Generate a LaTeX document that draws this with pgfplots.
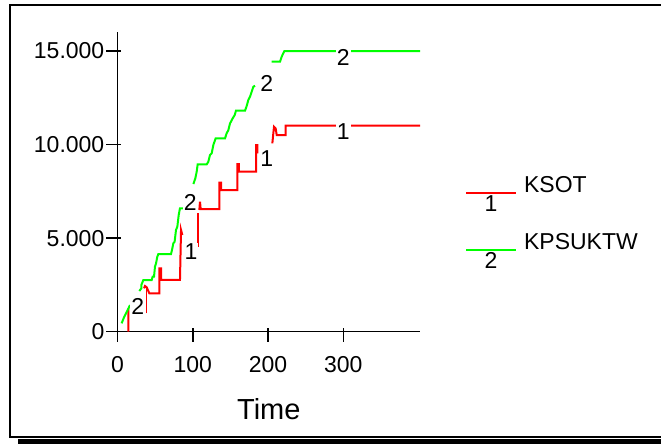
\documentclass[border=0pt]{standalone}
\usepackage{pgfplots}
\pgfplotsset{compat=1.18}
\usepackage{fontspec}
\setmainfont{Liberation Sans}
\definecolor{kred}{RGB}{255,0,0}
\definecolor{kgreen}{RGB}{0,255,0}
\newcommand{\fs}{\fontsize{23bp}{26bp}\selectfont}
\newcommand{\fl}{\fontsize{29bp}{32bp}\selectfont}
\begin{document}
\begin{tikzpicture}
\useasboundingbox (0,0) rectangle (661bp,444bp);
\clip (0,0) rectangle (661bp,444bp);
\fill[white] (0,0) rectangle (661bp,444bp);
\fill[black] (18bp,0) rectangle (670bp,5bp);
\draw[line width=2.2bp] (670bp,6.8bp) -- (10bp,6.8bp) -- (10bp,438.6bp) -- (670bp,438.6bp);
\begin{axis}[
  at={(117.5bp,112.3bp)}, anchor=origin,
  scale only axis, width=302.6bp, height=299.4bp,
  xmin=0, xmax=402, ymin=0, ymax=16000,
  axis x line=bottom, axis y line=left,
  axis line style={-, line width=1.5bp},
  every tick/.style={black, line width=1.5bp},
  tick align=outside, major tick length=14bp,
  xtick style={yshift=4bp}, ytick style={xshift=3bp},
  scaled y ticks=false, scaled x ticks=false,
  xtick={0,100,200,300}, xticklabels={0,100,200,300},
  ytick={0,5000,10000,15000}, yticklabels={0,5.000,10.000,15.000},
  /pgf/number format/assume math mode=true,
  tick label style={font=\fs},
  xticklabel style={anchor=north, inner sep=0pt, yshift=-11bp},
  yticklabel style={anchor=east, inner sep=0pt, xshift=1bp},
  xlabel={Time},
  x label style={at={(axis description cs:0.5,0)}, anchor=base, yshift=-87.3bp, font=\fl, inner sep=0pt},
  clip=false,
  legend style={draw=none, fill=none, inner sep=0pt, at={(1.148,0.5184)}, anchor=north west,
    row sep=19bp, column sep=7bp, font=\fs, cells={anchor=base west}, nodes={inner sep=0pt}},
]
% KSOT (red)
\addplot[kred, line width=2bp, unbounded coords=jump,
  legend image code/.code={\draw[kred,line width=2bp] (0bp,0bp) -- (50bp,0bp);
    \node[fill=white, text=black, inner xsep=0.5bp, inner ysep=1.5bp, anchor=north, font=\fs] at (25bp,-0.5bp) {1};}]
coordinates {
 (14.4,0) (14.4,1249) (14.4,nan)
 (35.2,2319) (36.5,2442) (38.8,2371) (42.3,2050) (55.6,2050) (55.6,3386) (57.8,3386) (57.8,2763)
 (83.0,2763) (84.4,5435) (86.1,5168) (86.1,nan)
 (108.7,6504) (109.6,6948) (110.5,6557) (135.3,6557) (135.3,7964) (137.5,7964) (137.5,7572)
 (159.2,7572) (159.2,8961) (161.4,8961) (161.4,8551) (184.0,8551) (184.0,9976) (185.8,9976) (185.8,9530) (185.8,nan)
 (205.7,10065) (207.9,10956) (210.1,10867) (211.5,10510) (223.4,10510) (223.4,11009) (401.9,11009)
};
\addlegendentry{KSOT}
% KPSUKTW (green)
\addplot[kgreen, line width=2bp, unbounded coords=jump,
  legend image code/.code={\draw[kgreen,line width=2bp] (0bp,0bp) -- (50bp,0bp);
    \node[fill=white, text=black, inner xsep=0.5bp, inner ysep=1.5bp, anchor=north, font=\fs] at (25bp,-0.5bp) {2};}]
coordinates {
 (5.5,446) (8.6,766) (11.3,981) (14.0,1195) (16.6,1426) (16.6,nan)
 (29.0,2174) (31.7,2316) (31.7,2494) (34.3,2762) (45.4,2762) (46.7,2939) (48.5,2939) (49.8,3476)
 (51.2,3654) (52.9,4010) (54.3,4152) (71.1,4152) (72.4,4365) (74.2,4722) (75.9,4811) (77.7,5434)
 (79.5,5613) (81.3,6236) (83.0,6593) (87.5,6593) (87.5,nan)
 (100.8,7891) (103.4,8194) (105.2,8550) (106.5,8942) (118.5,8942) (120.7,9085) (122.9,9441)
 (125.1,9530) (127.3,9975) (130.4,10331) (142.8,10331) (145.0,10598) (147.3,10776) (149.5,11132)
 (153.0,11400) (155.7,11578) (157.4,11810) (169.4,11810) (171.6,12060) (173.8,12380) (176.0,12558)
 (178.3,12826) (180.5,13093) (182.7,13146) (182.7,nan)
 (204.8,14428) (215.9,14428) (218.1,14696) (221.7,14999) (401.9,14999)
};
\addlegendentry{KPSUKTW}
% thin red strokes
\addplot[kred, line width=1.5bp, forget plot] coordinates {(38.2,981) (38.2,2406)};
\addplot[kred, line width=1.5bp, forget plot] coordinates {(106.8,6326) (106.8,4545)};
% curve labels
\node[fill=white, inner sep=1bp, font=\fs] at (axis cs:26.8,1336) {2};
\node[fill=white, inner sep=1bp, font=\fs] at (axis cs:96.8,6913) {2};
\node[fill=white, inner sep=1bp, font=\fs] at (axis cs:198.2,13259) {2};
\node[fill=white, inner sep=1bp, font=\fs] at (axis cs:300,14660) {2};
\node[fill=white, inner sep=1bp, font=\fs] at (axis cs:97.7,4277) {1};
\node[fill=white, inner sep=1bp, font=\fs] at (axis cs:198.2,9245) {1};
\node[fill=white, inner sep=1bp, font=\fs] at (axis cs:300,10705) {1};
\end{axis}
\end{tikzpicture}
\end{document}
